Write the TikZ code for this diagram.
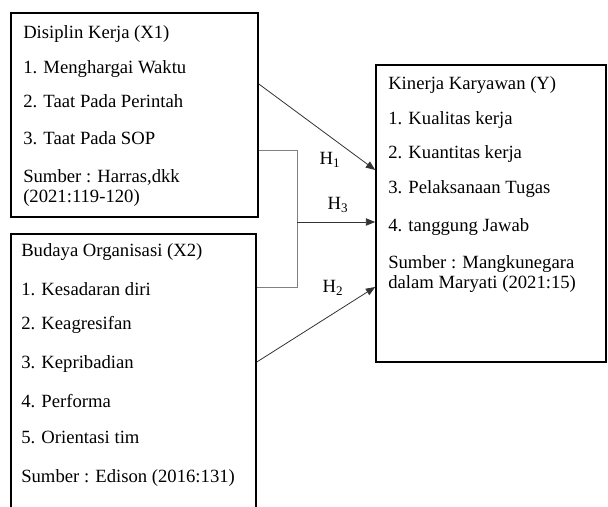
\documentclass[tikz,border=0pt]{standalone}
\usepackage{fontspec}
\setmainfont{Liberation Serif}
\usetikzlibrary{arrows.meta,positioning,fit}

\begin{document}
\begin{tikzpicture}[x=0.75pt,y=-0.75pt,
  box/.style={draw,line width=1.2pt,inner sep=0pt},
  txt/.style={anchor=base west,inner sep=0pt,font=\fontsize{14}{16}\selectfont},
  hyp/.style={inner sep=0pt,font=\fontsize{14}{16}\selectfont},
  arr/.style={-{Triangle[length=7pt,width=5.5pt]},line width=0.6pt,black!80}]
  \useasboundingbox (0,0) rectangle (608,507);
  \clip (0,0) rectangle (608,507);

  % variable boxes
  \node[box,fit={(11,13) (258,217)}] (x1) {};
  \node[box,fit={(11,234) (256,540)}] (x2) {};
  \node[box,fit={(376,65) (606,362)}] (y) {};

  % Disiplin Kerja
  \node[txt] (x1a) at (23,38) {Disiplin Kerja (X1)};
  \node[txt] (x1b) at (23,73) {1. Menghargai Waktu};
  \node[txt] (x1c) at (23,107) {2. Taat Pada Perintah};
  \node[txt] (x1d) at (23,144) {3. Taat Pada SOP};
  \node[txt] (x1e) at (23,182) {Sumber : Harras,dkk};
  \node[txt] (x1f) at (23,202) {(2021:119-120)};

  % Budaya Organisasi
  \node[txt] (x2a) at (21,256) {Budaya Organisasi (X2)};
  \node[txt] (x2b) at (21,295) {1. Kesadaran diri};
  \node[txt] (x2c) at (21,329) {2. Keagresifan};
  \node[txt] (x2d) at (21,368) {3. Kepribadian};
  \node[txt] (x2e) at (21,407) {4. Performa};
  \node[txt] (x2f) at (21,443) {5. Orientasi tim};
  \node[txt] (x2g) at (21,482) {Sumber : Edison (2016:131)};

  % Kinerja Karyawan
  \node[txt] (ya) at (388,89) {Kinerja Karyawan (Y)};
  \node[txt] (yb) at (388,124) {1. Kualitas kerja};
  \node[txt] (yc) at (388,158) {2. Kuantitas kerja};
  \node[txt] (yd) at (388,193) {3. Pelaksanaan Tugas};
  \node[txt] (ye) at (388,231) {4. tanggung Jawab};
  \node[txt] (yf) at (388,268) {Sumber : Mangkunegara};
  \node[txt] (yg) at (388,288) {dalam Maryati (2021:15)};

  % hypotheses
  \coordinate (join) at (297,222);
  \draw[arr] (x1.east |- 0,84) -- (y.west |- 0,170);
  \draw[arr] (x2.east |- 0,362) -- (y.west |- 0,287);
  \draw[gray,line width=0.7pt] (x1.east |- 0,150) -| (297,287) -- (x2.east |- 0,287);
  \draw[arr] (join) -- (y.west |- join);
  \node[hyp] (h1) at (330,160) {H\textsubscript{1}};
  \node[hyp] (h3) at (338,205) {H\textsubscript{3}};
  \node[hyp] (h2) at (333,288) {H\textsubscript{2}};
\end{tikzpicture}
\end{document}
